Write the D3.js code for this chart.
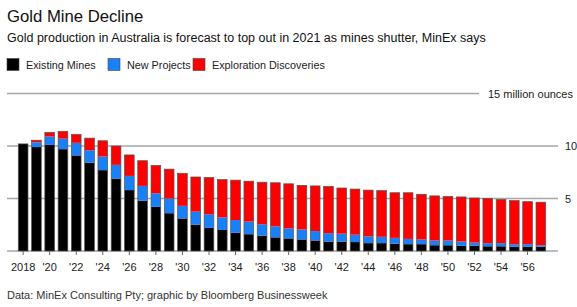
<!DOCTYPE html>
<html>
<head>
<meta charset="utf-8">
<script src="https://cdn.jsdelivr.net/npm/d3@7"></script>
<style>
	body{margin:0;background:#fff;}
	svg{display:block;font-family:"Liberation Sans", Arial, sans-serif;}
</style>
</head>
<body>
<div id="chart"></div>
<script>
// years 2018..2057
var years = d3.range(2018, 2058);

// million ounces, segment values
var existingMines = [
	10.2, 9.9, 10.1, 9.7, 9.1, 8.4, 7.7, 6.9, 5.8, 4.8,
	4.2, 3.6, 3.1, 2.5, 2.2, 2.0, 1.75, 1.6, 1.45, 1.3,
	1.2, 1.1, 1.0, 0.9, 0.9, 0.85, 0.75, 0.75, 0.7, 0.65,
	0.65, 0.55, 0.55, 0.5, 0.5, 0.45, 0.45, 0.4, 0.4, 0.4
];
var newProjects = [
	0, 0.45, 0.8, 1.0, 1.2, 1.2, 1.3, 1.3, 1.35, 1.4,
	1.3, 1.4, 1.2, 1.25, 1.3, 1.2, 1.2, 1.2, 1.1, 1.05,
	0.95, 0.95, 0.9, 0.8, 0.75, 0.7, 0.65, 0.6, 0.55, 0.5,
	0.45, 0.45, 0.45, 0.4, 0.3, 0.3, 0.3, 0.25, 0.25, 0.15
];
var explorationDiscoveries = [
	0, 0.2, 0.4, 0.7, 0.8, 1.15, 1.5, 1.8, 2.0, 2.4,
	2.65, 2.8, 3.1, 3.3, 3.5, 3.6, 3.8, 3.85, 4.0, 4.15,
	4.25, 4.2, 4.3, 4.45, 4.35, 4.35, 4.4, 4.4, 4.3, 4.4,
	4.3, 4.25, 4.2, 4.25, 4.25, 4.25, 4.15, 4.15, 4.05, 4.1
];

var seriesNames = ["Existing Mines", "New Projects", "Exploration Discoveries"];
var seriesColors = ["#000000", "#1a80f7", "#ff0000"];
var yTicks = [0, 5, 10, 15];

var width = 577, height = 307;

var svg = d3.select("#chart").append("svg")
	.attr("width", width)
	.attr("height", height);

// titles
svg.append("text")
	.attr("x", 7).attr("y", 22)
	.style("font-size", "16.7px")
	.attr("fill", "#111")
	.text("Gold Mine Decline");

svg.append("text")
	.attr("x", 7).attr("y", 42)
	.style("font-size", "12.5px")
	.attr("fill", "#111")
	.text("Gold production in Australia is forecast to top out in 2021 as mines shutter, MinEx says");

// legend
var legendX = [7, 108, 193];
var legend = svg.selectAll("g.legend")
	.data(seriesNames)
	.enter()
	.append("g")
	.classed("legend", true)
	.attr("transform", function(d, i){
		return "translate(" + legendX[i] + ", 58.5)";
	});
legend.append("rect")
	.attr("width", 12).attr("height", 12)
	.attr("fill", function(d, i){ return seriesColors[i]; })
	.attr("stroke", "#444")
	.attr("stroke-width", 0.6);
legend.append("text")
	.attr("x", 19).attr("y", 10)
	.style("font-size", "10.8px")
	.attr("fill", "#222")
	.text(function(d){ return d; });

// scales
var x = d3.scaleBand()
	.domain(years)
	.range([16.5, 547.5])
	.paddingInner(0.27)
	.paddingOuter(0.135);

var y = d3.scaleLinear()
	.domain([0, 15])
	.range([251, 93.5]);

// gridlines
svg.selectAll("line.grid")
	.data(yTicks)
	.enter()
	.append("line")
	.classed("grid", true)
	.attr("x1", 7)
	.attr("x2", function(d){ return d === 15 ? 479 : 558; })
	.attr("y1", function(d){ return y(d); })
	.attr("y2", function(d){ return y(d); })
	.attr("stroke", "#a6a6a6")
	.attr("stroke-width", 1.4);

svg.selectAll("text.ylab")
	.data(yTicks.filter(function(d){ return d > 0; }))
	.enter()
	.append("text")
	.classed("ylab", true)
	.attr("x", function(d){ return d === 15 ? 488 : 565; })
	.attr("y", function(d){ return y(d) + 4; })
	.style("font-size", "11px")
	.attr("fill", "#222")
	.text(function(d){ return d === 15 ? "15 million ounces" : d; });

// stacked bars
var rows = years.map(function(yr, i){
	return {
		year: yr,
		existing: existingMines[i],
		newp: newProjects[i],
		expl: explorationDiscoveries[i]
	};
});
var stack = d3.stack().keys(["existing", "newp", "expl"]);
var layers = stack(rows);

svg.selectAll("g.layer")
	.data(layers)
	.enter()
	.append("g")
	.classed("layer", true)
	.attr("fill", function(d, i){ return seriesColors[i]; })
	.selectAll("rect")
	.data(function(d){ return d.filter(function(v){ return v[1] - v[0] > 0; }); })
	.enter()
	.append("rect")
	.attr("x", function(d){ return x(d.data.year); })
	.attr("width", x.bandwidth())
	.attr("y", function(d){ return y(d[1]); })
	.attr("height", function(d){ return y(d[0]) - y(d[1]); });

// outline around each full bar
svg.selectAll("rect.outline")
	.data(rows)
	.enter()
	.append("rect")
	.classed("outline", true)
	.attr("x", function(d){ return x(d.year); })
	.attr("width", x.bandwidth())
	.attr("y", function(d){ return y(d.existing + d.newp + d.expl); })
	.attr("height", function(d){ return y(0) - y(d.existing + d.newp + d.expl); })
	.attr("fill", "none")
	.attr("stroke", "#555")
	.attr("stroke-width", 0.7);

// x axis
var xAxis = d3.axisBottom(x)
	.tickValues(years.filter(function(d){ return d % 2 === 0; }))
	.tickSize(4)
	.tickFormat(function(d){
		return d === 2018 ? "2018" : "'" + String(d).slice(2);
	});

var gx = svg.append("g")
	.attr("transform", "translate(0, 251)")
	.call(xAxis);
gx.select(".domain").remove();
gx.selectAll(".tick line").attr("stroke", "#666");
gx.selectAll(".tick text")
	.attr("y", 12)
	.style("font-size", "11px")
	.style("font-family", "Liberation Sans, Arial, sans-serif")
	.attr("fill", "#222");

// source
svg.append("text")
	.attr("x", 7).attr("y", 299)
	.style("font-size", "11px")
	.attr("fill", "#333")
	.text("Data: MinEx Consulting Pty; graphic by Bloomberg Businessweek");
</script>
</body>
</html>
